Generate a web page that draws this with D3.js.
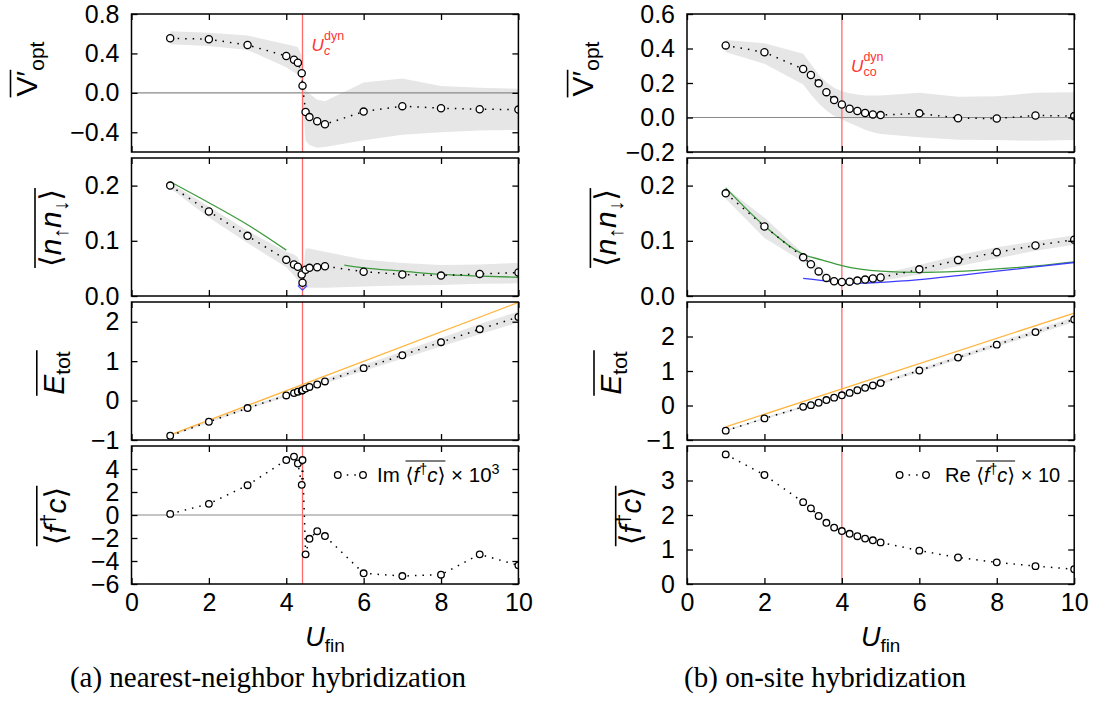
<!DOCTYPE html>
<html>
<head>
<meta charset="utf-8">
<script src="https://cdn.jsdelivr.net/npm/d3@7"></script>
<style>
  body { margin: 0; background: #fff; }
  text { font-family: "Liberation Sans", "DejaVu Sans", sans-serif; }
</style>
</head>
<body>
<svg id="chart" width="1101" height="702"></svg>
<script>
// U_fin grids of the two columns
var uA = [1, 2, 3, 4, 4.2, 4.3, 4.4, 4.42, 4.5, 4.6, 4.8, 5, 6, 7, 8, 9, 10];
var uB = [1, 2, 3, 3.2, 3.4, 3.6, 3.8, 4, 4.2, 4.4, 4.6, 4.8, 5, 6, 7, 8, 9, 10];
var xTicks = [0, 2, 4, 6, 8, 10];
var ucA = 4.42, ucB = 4.0;

// (a) nearest-neighbor hybridization
var voptA    = [0.554, 0.544, 0.485, 0.374, 0.336, 0.305, 0.2, 0.073, -0.194, -0.246, -0.288, -0.319, -0.19, -0.135, -0.156, -0.166, -0.17];
var voptA_hi = [0.626, 0.609, 0.581, 0.494, 0.476, 0.463, 0.38, 0.1, 0.03, -0.01, -0.07, -0.085, 0.104, 0.146, 0.07, 0.052, 0.042];
var voptA_lo = [0.494, 0.476, 0.435, 0.26, 0.21, 0.19, 0.12, -0.08, -0.487, -0.53, -0.556, -0.55, -0.48, -0.424, -0.4, -0.383, -0.376];

var doccA    = [0.2, 0.153, 0.109, 0.0655, 0.057, 0.053, 0.039, 0.024, 0.0476, 0.051, 0.052, 0.054, 0.044, 0.039, 0.037, 0.040, 0.0426];
var doccA_hi = [0.205, 0.162, 0.118, 0.08, 0.075, 0.07, 0.05, 0.034, 0.086, 0.086, 0.083, 0.08, 0.066, 0.06, 0.056, 0.057, 0.06];
var doccA_lo = [0.195, 0.142, 0.096, 0.052, 0.037, 0.028, 0.018, 0.014, 0.015, 0.015, 0.015, 0.015, 0.017, 0.019, 0.02, 0.022, 0.023];
var greenA1_u = [1, 2, 3, 4];
var greenA1   = [0.207, 0.169, 0.129, 0.083];
var greenA2_u = [5.5, 6, 7, 8, 9, 10];
var greenA2   = [0.056, 0.051, 0.045, 0.039, 0.036, 0.034];
var diamondA_u = [4.42];
var diamondA   = [0.018];

var etotA    = [-0.892, -0.537, -0.19, 0.13, 0.19, 0.225, 0.251, 0.26, 0.303, 0.346, 0.407, 0.485, 0.822, 1.15, 1.48, 1.81, 2.12];
var etotA_hi = [-0.87, -0.51, -0.155, 0.175, 0.237, 0.273, 0.3, 0.31, 0.355, 0.4, 0.465, 0.545, 0.9, 1.245, 1.59, 1.94, 2.26];
var etotA_lo = [-0.91, -0.56, -0.22, 0.09, 0.148, 0.182, 0.207, 0.215, 0.255, 0.296, 0.355, 0.43, 0.75, 1.06, 1.37, 1.68, 1.98];
var orangeA_u = [1, 10];
var orangeA   = [-0.87, 2.49];

var fcA = [0.096, 0.97, 2.59, 4.78, 5.08, 4.48, 2.62, 4.78, -3.42, -2.07, -1.41, -1.83, -5.07, -5.31, -5.19, -3.42, -4.38];

// (b) on-site hybridization
var voptB    = [0.418, 0.378, 0.281, 0.246, 0.198, 0.147, 0.101, 0.075, 0.051, 0.038, 0.026, 0.018, 0.014, 0.024, -0.004, -0.006, 0.012, 0.008];
var voptB_hi = [0.45, 0.43, 0.37, 0.31, 0.25, 0.205, 0.172, 0.152, 0.14, 0.133, 0.128, 0.127, 0.127, 0.143, 0.12, 0.123, 0.143, 0.147];
var voptB_lo = [0.38, 0.311, 0.192, 0.133, 0.083, 0.04, 0.008, -0.012, -0.032, -0.051, -0.071, -0.085, -0.095, -0.115, -0.129, -0.131, -0.135, -0.131];

var doccB    = [0.186, 0.126, 0.070, 0.0576, 0.0446, 0.0328, 0.0266, 0.0254, 0.026, 0.0279, 0.0297, 0.0316, 0.0334, 0.0483, 0.065, 0.0792, 0.0916, 0.102];
var doccB_hi = [0.196, 0.142, 0.077, 0.066, 0.053, 0.04, 0.033, 0.031, 0.031, 0.033, 0.035, 0.038, 0.04, 0.056, 0.074, 0.0885, 0.099, 0.11];
var doccB_lo = [0.176, 0.105, 0.062, 0.051, 0.039, 0.028, 0.022, 0.02, 0.021, 0.023, 0.024, 0.025, 0.027, 0.039, 0.054, 0.068, 0.082, 0.093];
var greenB_u = [1, 2, 3, 3.5, 4, 5, 6, 7, 8, 9, 10];
var greenB   = [0.196, 0.127, 0.0755, 0.065, 0.055, 0.045, 0.0427, 0.0446, 0.049, 0.0545, 0.062];
var blueB_u  = [3, 3.5, 4, 4.5, 5, 6, 7, 8, 9, 10];
var blueB    = [0.032, 0.028, 0.024, 0.0235, 0.0248, 0.0297, 0.037, 0.045, 0.0526, 0.0607];

var etotB    = [-0.729, -0.374, -0.039, 0.01, 0.079, 0.158, 0.227, 0.296, 0.365, 0.443, 0.512, 0.581, 0.65, 1.015, 1.389, 1.764, 2.128, 2.493];
var etotB_hi = [-0.71, -0.35, -0.01, 0.04, 0.11, 0.19, 0.26, 0.33, 0.4, 0.48, 0.55, 0.62, 0.69, 1.065, 1.445, 1.825, 2.195, 2.565];
var etotB_lo = [-0.75, -0.4, -0.07, -0.02, 0.05, 0.125, 0.195, 0.262, 0.33, 0.405, 0.475, 0.542, 0.61, 0.965, 1.333, 1.703, 2.06, 2.42];
var orangeB_u = [1, 10];
var orangeB   = [-0.62, 2.68];

var fcB = [3.757, 3.16, 2.372, 2.193, 1.973, 1.774, 1.635, 1.535, 1.455, 1.385, 1.316, 1.266, 1.206, 0.967, 0.768, 0.628, 0.518, 0.429];

// axis label pieces (math-like text)
var lbVopt = [{t: "V\u2032", over: 1}, {t: "opt", sub: 1}];
var lbDocc = [{t: "\u27e8", over: 1}, {t: "n", it: 1, over: 1}, {t: "\u2191", sub: 1, over: 1},
              {t: "n", it: 1, over: 1}, {t: "\u2193", sub: 1, over: 1}, {t: "\u27e9", over: 1}];
var lbEtot = [{t: "E", it: 1, over: 1}, {t: "tot", sub: 1, over: 1}];
var lbFc   = [{t: "\u27e8", over: 1}, {t: "f", it: 1, over: 1}, {t: "\u2020", sup: 1, over: 1},
              {t: "c", it: 1, over: 1}, {t: "\u27e9", over: 1}];
var lgA = [{t: "Im "}, {t: "\u27e8", over: 1}, {t: "f", it: 1, over: 1}, {t: "\u2020", sup: 1, over: 1},
           {t: "c", it: 1, over: 1}, {t: "\u27e9", over: 1}, {t: " \u00d7 10"}, {t: "3", sup: 1}];
var lgB = [{t: "Re "}, {t: "\u27e8", over: 1}, {t: "f", it: 1, over: 1}, {t: "\u2020", sup: 1, over: 1},
           {t: "c", it: 1, over: 1}, {t: "\u27e9", over: 1}, {t: " \u00d7 10"}];

var svg = d3.select("#chart");

var colA = {x0: 131.5, x1: 518.4, cap: "(a) nearest-neighbor hybridization", capX: 268};
var colB = {x0: 687, x1: 1074.2, cap: "(b) on-site hybridization", capX: 825};
var rows = [{y0: 14, y1: 152}, {y0: 158, y1: 296}, {y0: 302, y1: 440}, {y0: 446, y1: 584}];

var f1 = d3.format(".1f"), f0 = d3.format("d");

var panels = [
  {col: colA, row: 0, u: uA, v: voptA, band: [voptA_hi, voptA_lo], dom: [-0.6, 0.8], ticks: [-0.4, 0, 0.4, 0.8], fmt: f1, zero: 1, uc: ucA,
   label: lbVopt, bx: 37, ox: 10.5, cy: 69, lines: []},
  {col: colA, row: 1, u: uA, v: doccA, band: [doccA_hi, doccA_lo], dom: [0, 0.25], ticks: [0, 0.1, 0.2], fmt: f1, uc: ucA,
   label: lbDocc, bx: 61, ox: 35, cy: 228,
   lines: [{u: greenA1_u, v: greenA1, c: "#3f9a3f"}, {u: greenA2_u, v: greenA2, c: "#3f9a3f"}], diamond: [diamondA_u, diamondA]},
  {col: colA, row: 2, u: uA, v: etotA, band: [etotA_hi, etotA_lo], dom: [-1, 2.5], ticks: [-1, 0, 1, 2], fmt: f0, uc: ucA, r: 3.3,
   label: lbEtot, bx: 63.5, ox: 36.8, cy: 373, lines: [{u: orangeA_u, v: orangeA, c: "#ffb640"}]},
  {col: colA, row: 3, u: uA, v: fcA, dom: [-6, 6], ticks: [-6, -4, -2, 0, 2, 4], fmt: f0, zero: 1, uc: ucA, r: 3.3,
   label: lbFc, bx: 66, ox: 36.8, cy: 516, lines: [], legend: lgA, lgX: [337.8, 363, 377], lgSize: 20.5},
  {col: colB, row: 0, u: uB, v: voptB, band: [voptB_hi, voptB_lo], dom: [-0.2, 0.6], ticks: [-0.2, 0, 0.2, 0.4, 0.6], fmt: f1, zero: 1, uc: ucB,
   label: lbVopt, bx: 592.5, ox: 567.6, cy: 69, lines: []},
  {col: colB, row: 1, u: uB, v: doccB, band: [doccB_hi, doccB_lo], dom: [0, 0.25], ticks: [0, 0.1, 0.2], fmt: f1, uc: ucB,
   label: lbDocc, bx: 616, ox: 590.4, cy: 228,
   lines: [{u: greenB_u, v: greenB, c: "#3f9a3f"}, {u: blueB_u, v: blueB, c: "#3c3cff"}]},
  {col: colB, row: 2, u: uB, v: etotB, band: [etotB_hi, etotB_lo], dom: [-1, 3], ticks: [-1, 0, 1, 2], fmt: f0, uc: ucB, r: 3.3,
   label: lbEtot, bx: 620.5, ox: 594, cy: 373, lines: [{u: orangeB_u, v: orangeB, c: "#ffb640"}]},
  {col: colB, row: 3, u: uB, v: fcB, dom: [0, 4], ticks: [0, 1, 2, 3], fmt: f0, uc: ucB, r: 3.3,
   label: lbFc, bx: 641, ox: 615.7, cy: 516, lines: [], legend: lgB, lgX: [899.6, 926, 945], lgSize: 20}
];

// text made of pieces with sub/superscripts; returns measurements for overline
function mathText(sel, parts, size) {
  var t = sel.append("text").attr("font-size", size).attr("fill", "#000");
  var shift = 0, pos = 0, oa = -1, ob = -1;
  parts.forEach(function(p) {
    var s = p.sub ? 0.22 * size : p.sup ? -0.38 * size : 0;
    var ts = t.append("tspan").text(p.t).attr("dy", s - shift);
    if (p.sub || p.sup) ts.attr("font-size", size * 0.7);
    if (p.it) ts.attr("font-style", "italic");
    shift = s;
    if (p.over) { if (oa < 0) oa = pos; ob = pos + p.t.length; }
    pos += p.t.length;
  });
  var node = t.node();
  var res = {t: t, len: node.getComputedTextLength(), a: 0, b: 0};
  if (oa >= 0) {
    res.a = oa > 0 ? node.getSubStringLength(0, oa) : 0;
    res.b = node.getSubStringLength(0, ob);
  }
  return res;
}

panels.forEach(function(p, k) {
  var r = rows[p.row], c = p.col;
  var x = d3.scaleLinear().domain([0, 10]).range([c.x0, c.x1]);
  var y = d3.scaleLinear().domain(p.dom).range([r.y1, r.y0]);
  var rad = p.r || 3.6;

  svg.append("clipPath").attr("id", "clip" + k)
    .append("rect").attr("x", c.x0).attr("y", r.y0).attr("width", c.x1 - c.x0).attr("height", r.y1 - r.y0);
  var g = svg.append("g").attr("clip-path", "url(#clip" + k + ")");

  if (p.band) {
    g.append("path")
      .datum(d3.range(p.u.length))
      .attr("fill", "#e6e6e6")
      .attr("d", d3.area()
        .x(function(i) { return x(p.u[i]); })
        .y0(function(i) { return y(p.band[1][i]); })
        .y1(function(i) { return y(p.band[0][i]); }));
  }

  if (p.zero) {
    g.append("line").attr("x1", c.x0).attr("x2", c.x1).attr("y1", y(0)).attr("y2", y(0))
      .attr("stroke", "#8a8a8a").attr("stroke-width", 1.1);
  }

  g.append("line").attr("x1", x(p.uc)).attr("x2", x(p.uc)).attr("y1", r.y0).attr("y2", r.y1)
    .attr("stroke", "#ff6b6b").attr("stroke-width", 1.3);

  p.lines.forEach(function(l) {
    g.append("path")
      .datum(d3.range(l.u.length))
      .attr("fill", "none").attr("stroke", l.c).attr("stroke-width", 1.3)
      .attr("d", d3.line().curve(d3.curveMonotoneX)
        .x(function(i) { return x(l.u[i]); })
        .y(function(i) { return y(l.v[i]); }));
  });

  // dotted connection
  g.append("path")
    .datum(d3.range(p.u.length))
    .attr("fill", "none").attr("stroke", "#000").attr("stroke-width", 1.5)
    .attr("stroke-dasharray", "1.5,6")
    .attr("d", d3.line()
      .x(function(i) { return x(p.u[i]); })
      .y(function(i) { return y(p.v[i]); }));

  if (p.diamond) {
    g.append("path")
      .attr("d", d3.symbol(d3.symbolSquare, 34)())
      .attr("transform", "translate(" + x(p.diamond[0][0]) + "," + y(p.diamond[1][0]) + ") rotate(45)")
      .attr("fill", "none").attr("stroke", "#4a4aff").attr("stroke-width", 1.2);
  }

  g.selectAll("circle.pt")
    .data(d3.range(p.u.length))
    .enter().append("circle")
      .attr("class", "pt")
      .attr("cx", function(i) { return x(p.u[i]); })
      .attr("cy", function(i) { return y(p.v[i]); })
      .attr("r", rad)
      .attr("fill", "#fff").attr("stroke", "#000").attr("stroke-width", 1.3);

  // axes, ticks inward on every side
  var axL = svg.append("g").attr("transform", "translate(" + c.x0 + ",0)")
    .call(d3.axisLeft(y).tickValues(p.ticks).tickSize(-6).tickPadding(12).tickFormat(p.fmt));
  svg.append("g").attr("transform", "translate(" + c.x1 + ",0)")
    .call(d3.axisRight(y).tickValues(p.ticks).tickSize(-6).tickFormat(""));
  svg.append("g").attr("transform", "translate(0," + r.y0 + ")")
    .call(d3.axisTop(x).tickValues(xTicks).tickSize(-6).tickFormat(""));
  var axB = svg.append("g").attr("transform", "translate(0," + r.y1 + ")")
    .call(d3.axisBottom(x).tickValues(xTicks).tickSize(-6).tickPadding(9)
      .tickFormat(p.row == 3 ? f0 : ""));
  svg.selectAll(".domain").remove();
  svg.selectAll(".tick line").attr("stroke", "#000").attr("stroke-width", 1.3);
  axL.selectAll("text").attr("font-size", 25).attr("font-family", null).attr("fill", "#000");
  axB.selectAll("text").attr("font-size", 25).attr("font-family", null).attr("fill", "#000");
  axL.attr("font-family", null);
  axB.attr("font-family", null);

  svg.append("rect").attr("x", c.x0).attr("y", r.y0).attr("width", c.x1 - c.x0).attr("height", r.y1 - r.y0)
    .attr("fill", "none").attr("stroke", "#000").attr("stroke-width", 1.5);

  // y label, rotated, with overline
  var lg = svg.append("g").attr("transform", "translate(" + p.bx + "," + p.cy + ") rotate(-90)");
  var m = mathText(lg, p.label, 30);
  m.t.attr("x", -m.len / 2);
  lg.append("line").attr("x1", -m.len / 2 + m.a - 1).attr("x2", -m.len / 2 + m.b + 1)
    .attr("y1", -(p.bx - p.ox)).attr("y2", -(p.bx - p.ox))
    .attr("stroke", "#000").attr("stroke-width", 1.6);

  // red U_c label in the top panels
  if (p.row == 0) {
    var rx = x(p.uc) + 9, ry = k == 0 ? 51 : 72;
    svg.append("text").attr("x", rx).attr("y", ry).attr("font-size", 17).attr("font-style", "italic")
      .attr("fill", "#ff3333").text("U");
    svg.append("text").attr("x", rx + 12.5).attr("y", ry - 11).attr("font-size", 12.5)
      .attr("fill", "#ff3333").text("dyn");
    svg.append("text").attr("x", rx + 12.5).attr("y", ry + 4).attr("font-size", 12.5)
      .attr("fill", "#ff3333").attr("font-style", k == 0 ? "italic" : null).text(k == 0 ? "c" : "co");
  }

  if (p.legend) {
    var ly = 475;
    svg.append("line").attr("x1", p.lgX[0]).attr("x2", p.lgX[1]).attr("y1", ly).attr("y2", ly)
      .attr("stroke", "#000").attr("stroke-width", 1.5).attr("stroke-dasharray", "1.5,6")
      .attr("stroke-dashoffset", -9);
    svg.selectAll(null).data([p.lgX[0], p.lgX[1]]).enter().append("circle")
      .attr("cx", function(d) { return d; }).attr("cy", ly).attr("r", 3.3)
      .attr("fill", "#fff").attr("stroke", "#000").attr("stroke-width", 1.3);
    var tg = svg.append("g").attr("transform", "translate(" + p.lgX[2] + "," + (ly + 7) + ")");
    var mt = mathText(tg, p.legend, p.lgSize);
    tg.append("line").attr("x1", mt.a).attr("x2", mt.b).attr("y1", -21).attr("y2", -21)
      .attr("stroke", "#000").attr("stroke-width", 1.2);
  }

  // x label and caption under the bottom panels
  if (p.row == 3) {
    var xg = svg.append("g").attr("transform", "translate(" + ((c.x0 + c.x1) / 2) + ",646)");
    var xm = mathText(xg, [{t: "U", it: 1}, {t: "fin", sub: 1}], 27);
    xm.t.attr("x", -xm.len / 2);
    svg.append("text").attr("x", c.capX).attr("y", 687).attr("text-anchor", "middle")
      .attr("font-size", 29).style("font-family", "'Liberation Serif', 'DejaVu Serif', serif")
      .text(c.cap);
  }
});
</script>
</body>
</html>
